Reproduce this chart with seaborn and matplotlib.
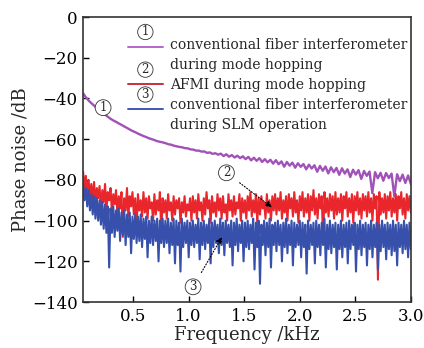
import numpy as np
import pandas as pd
import seaborn as sns
import matplotlib.pyplot as plt
from matplotlib.lines import Line2D
from matplotlib.transforms import Affine2D

# frequency grids (kHz)
f_min, f_max = 0.05, 3.0
n_noise = 240
n_conv = 120

# (1) conventional fiber interferometer during mode hopping
conv_hop = [
    -37.5, -39.4, -41, -42.3, -43.5, -44.8, -46, -47, -48, -49,
    -50, -50.8, -51.5, -52.3, -53, -53.8, -54.5, -55.3, -56, -56.6,
    -57.3, -57.9, -58.5, -59, -59.6, -60, -60.5, -61, -61.3, -61.6,
    -62, -62.5, -62.7, -63.2, -63.5, -63.8, -64, -64.4, -64.5, -65,
    -65.1, -65.6, -65.6, -66.1, -66, -66.7, -66.5, -67.2, -66.9, -67.6,
    -67.1, -68.3, -67.4, -68.6, -67.8, -69, -68.1, -69.3, -68.4, -69.8,
    -68.7, -70.4, -69.1, -70.6, -69.3, -71.2, -69.8, -71.4, -70.1, -72,
    -70.3, -72.3, -70.9, -73.5, -71.2, -73, -71.5, -74, -71.8, -73.6,
    -72.2, -74.8, -72.5, -74.4, -72.8, -76, -73.1, -75.5, -73.4, -76.8,
    -73.8, -76.2, -74.1, -77.5, -74.3, -76.9, -74.8, -78.6, -75, -77.4,
    -75.2, -79.5, -75.6, -78, -75.9, -86.5, -76.2, -79.2, -76.5, -80.4,
    -76.6, -79.1, -76.9, -88, -77.2, -80.6, -77.4, -81.5, -77.8, -82,
]

# (2) AFMI during mode hopping
afmi_hop = [
    -76, -84, -78, -86, -80, -88, -82, -90, -81, -92, -84, -89, -83, -94, -85, -91, -82, -95, -86, -90,
    -84, -96, -87, -92, -85, -97, -88, -94, -86, -108, -89, -95, -84, -98, -88, -93, -86, -97, -89, -104,
    -87, -95, -90, -98, -86, -96, -89, -99, -88, -94, -91, -100, -87, -97, -90, -95, -86, -106, -89, -96,
    -90, -99, -87, -95, -91, -100, -88, -97, -90, -94, -89, -101, -91, -96, -88, -98, -92, -95, -89, -100,
    -88, -96, -90, -99, -87, -95, -91, -100, -89, -97, -86, -94, -90, -101, -88, -96, -91, -98, -87, -95,
    -89, -99, -88, -96, -92, -100, -87, -95, -90, -98, -88, -97, -91, -94, -87, -100, -89, -96, -90, -99,
    -88, -95, -86, -98, -90, -96, -87, -101, -89, -97, -88, -94, -91, -99, -87, -96, -90, -100, -88, -95,
    -87, -97, -89, -95, -86, -99, -90, -96, -88, -100, -87, -94, -89, -98, -86, -96, -90, -101, -88, -95,
    -86, -98, -89, -96, -87, -100, -88, -95, -85, -97, -89, -99, -87, -94, -88, -110, -86, -96, -89, -98,
    -87, -95, -88, -99, -86, -97, -89, -96, -87, -100, -88, -94, -86, -98, -89, -96, -87, -101, -88, -95,
    -86, -97, -89, -99, -87, -95, -88, -98, -86, -96, -89, -100, -87, -94, -88, -129, -86, -97, -89, -96,
    -87, -99, -88, -95, -86, -98, -89, -96, -87, -100, -88, -94, -86, -97, -89, -99, -87, -95, -88, -96,
]

# (3) conventional fiber interferometer during SLM operation
conv_slm = [
    -82, -90, -84, -93, -85, -95, -87, -97, -88, -99, -89, -100, -90, -102, -91, -104, -92, -106, -93, -123,
    -94, -106, -93, -108, -95, -105, -94, -110, -96, -107, -95, -112, -97, -108, -96, -116, -98, -109, -97, -111,
    -98, -110, -97, -113, -99, -109, -98, -118, -100, -111, -98, -112, -100, -110, -99, -120, -100, -111, -99, -113,
    -100, -111, -99, -116, -101, -112, -99, -121, -100, -112, -101, -125, -99, -113, -101, -111, -100, -118, -101, -112,
    -100, -113, -102, -111, -99, -119, -101, -112, -100, -114, -102, -111, -99, -121, -101, -113, -100, -111, -102, -116,
    -99, -112, -101, -117, -100, -111, -102, -113, -100, -122, -101, -112, -99, -115, -102, -111, -100, -120, -101, -113,
    -100, -114, -102, -111, -99, -124, -101, -113, -100, -131, -102, -112, -100, -117, -101, -113, -99, -123, -102, -112,
    -101, -115, -100, -112, -102, -120, -101, -113, -99, -116, -102, -112, -100, -122, -101, -113, -102, -112, -100, -118,
    -101, -113, -102, -126, -100, -114, -102, -112, -101, -121, -100, -113, -102, -117, -101, -112, -99, -123, -102, -114,
    -100, -116, -102, -113, -101, -124, -102, -114, -100, -118, -102, -113, -101, -121, -100, -114, -102, -112, -101, -125,
    -102, -114, -100, -117, -102, -113, -101, -122, -102, -114, -100, -118, -102, -113, -101, -124, -102, -115, -100, -113,
    -102, -119, -101, -114, -102, -117, -100, -115, -102, -122, -101, -113, -102, -116, -100, -114, -102, -118, -101, -114,
]

labels = ["conventional fiber interferometer", "during mode hopping",
          "AFMI during mode hopping",
          "conventional fiber interferometer", "during SLM operation"]
x_ticks = [0.5, 1.0, 1.5, 2.0, 2.5, 3.0]
y_ticks = [0, -20, -40, -60, -80, -100, -120, -140]

c_purple = "#a052b8"
c_red = "#e8262c"
c_blue = "#3650ac"

sns.set_style("ticks")
plt.rcParams['font.family'] = ['DejaVu Serif']
plt.rcParams['mathtext.fontset'] = 'dejavuserif'

freq_conv = np.linspace(f_min, f_max, n_conv)
freq_noise = np.linspace(f_min, f_max, n_noise)

fig = plt.figure(figsize=(4.24, 3.48), dpi=100)
ax = fig.add_axes([0.196, 0.132, 0.773, 0.819])

sns.lineplot(x=freq_conv, y=conv_hop, color=c_purple, lw=1.7, ax=ax)
sns.lineplot(x=freq_noise, y=afmi_hop, color=c_red, lw=1.5, ax=ax)
sns.lineplot(x=freq_noise, y=conv_slm, color=c_blue, lw=1.5, ax=ax)

ax.set_xlim(f_min, f_max)
ax.set_ylim(-140, 0)
ax.set_xticks(x_ticks)
ax.set_yticks(y_ticks)
ax.set_xticklabels(["%.1f" % t for t in x_ticks])
ax.tick_params(direction="in", length=4, width=1, labelsize=12, colors="black", pad=4)
for s in ax.spines.values():
    s.set_linewidth(1.2)
    s.set_color("#333333")
ax.set_xlabel("Frequency /kHz", fontsize=13, labelpad=1)
ax.set_ylabel("Phase noise /dB", fontsize=13, labelpad=2)

# legend: one entry per text line, blank handles for the continuation lines
blank = Line2D([], [], color="none")
handles = [Line2D([], [], color="#b865c8", lw=1.4), blank,
           Line2D([], [], color="#c8303c", lw=1.4),
           Line2D([], [], color="#4058b0", lw=1.4), blank]
leg = ax.legend(handles, labels, loc="upper left", bbox_to_anchor=(0.137, 0.925),
                frameon=False, fontsize=10, handlelength=2.5, handletextpad=0.5,
                labelspacing=0.42, borderpad=0, borderaxespad=0)

circ = dict(boxstyle="circle,pad=0.12", fc="white", ec="#333333", lw=0.6)

fig.canvas.draw()
renderer = fig.canvas.get_renderer()
# handle lines sit a bit under the text, most for the 3rd entry
for h, num, dy in zip([leg.legend_handles[0], leg.legend_handles[2], leg.legend_handles[3]],
                      ["1", "2", "3"], [-2, 0, -5]):
    bb = h.get_window_extent(renderer)
    h.set_transform(h.get_transform() + Affine2D().translate(0, dy))
    ax.annotate(num, xy=((bb.x0 + bb.x1) / 2, (bb.y0 + bb.y1) / 2 + dy), xycoords="figure pixels",
                xytext=(0, 10.5), textcoords="offset points", ha="center", va="center",
                fontsize=8.5, bbox=dict(boxstyle="circle,pad=0.1", fc="none", ec="#333333", lw=0.6))

# curve labels
ax.text(0.23, -44.5, "1", ha="center", va="center", fontsize=8.5, bbox=circ, zorder=5)
arrow = dict(arrowstyle="-|>", linestyle=":", color="black", lw=0.8, mutation_scale=9,
             shrinkA=6, shrinkB=0)
ax.annotate("2", xy=(1.75, -93.5), xytext=(1.34, -76.5), ha="center", va="center",
            fontsize=8.5, bbox=circ, arrowprops=arrow, zorder=5)
ax.annotate("3", xy=(1.30, -108), xytext=(1.04, -132.5), ha="center", va="center",
            fontsize=8.5, bbox=circ, arrowprops=arrow, zorder=5)

fig.savefig("out.png", dpi=100)
